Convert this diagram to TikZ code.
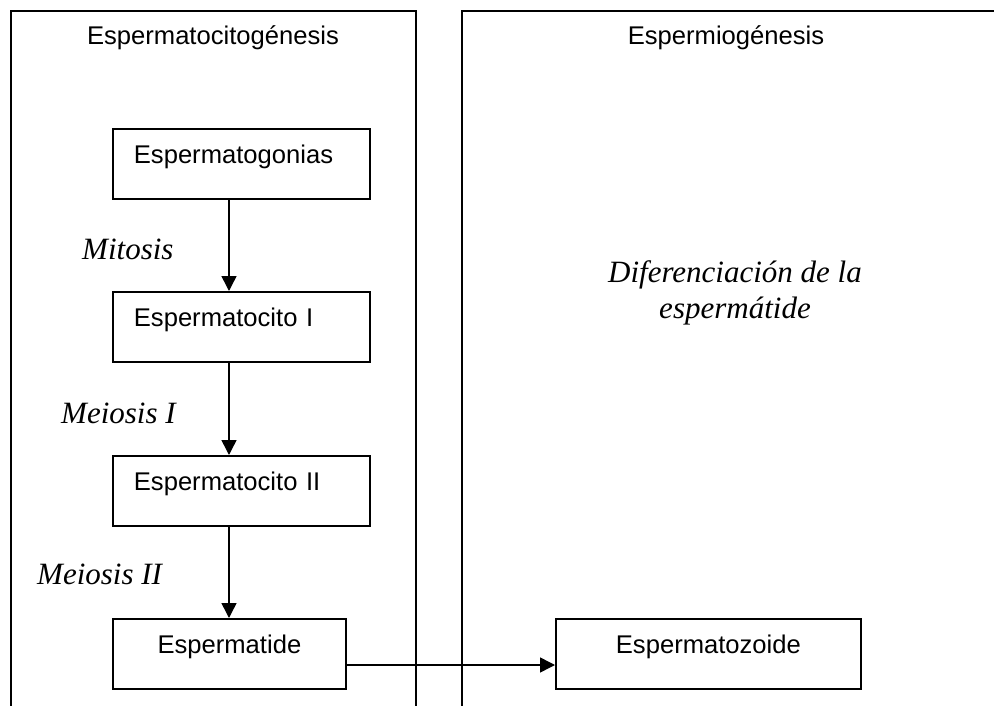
\documentclass[tikz,border=0pt]{standalone}
\usepackage{fontspec}
\setmainfont{Liberation Sans}
\newfontfamily\timesfont{Liberation Serif}
\usetikzlibrary{arrows.meta}
\tikzset{
  panel/.style={line width=1.3pt, draw=black},
  boxl/.style={draw=black, line width=1.8pt, rectangle, inner ysep=0pt,
    text height=35pt, text depth=35pt, anchor=north west,
    font=\fontsize{25.6pt}{30pt}\selectfont},
  boxleft/.style={boxl, align=left, text width=215pt, inner xsep=21pt},
  boxcenter/.style={boxl, inner xsep=0pt},
  head/.style={anchor=base, inner sep=0pt, font=\fontsize{25.6pt}{30pt}\selectfont},
  lab/.style={anchor=base west, inner sep=0pt, font=\timesfont\itshape\fontsize{31pt}{36pt}\selectfont},
  labc/.style={anchor=base, inner sep=0pt, font=\timesfont\itshape\fontsize{31pt}{36pt}\selectfont},
  arr/.style={line width=1.5pt, -{Triangle[length=15pt,width=15pt]}}
}
\begin{document}
\begin{tikzpicture}[x=1pt,y=-1pt]
\useasboundingbox (0,0) rectangle (994,706);
% panels
\draw[panel] (11,706) -- (11,11) -- (416,11) -- (416,706);
\draw[panel] (462,706) -- (462,11) -- (994,11);
\node[head] (h1) at (213,45) {Espermatocitogénesis};
\node[head] (h2) at (726,45) {Espermiogénesis};
% boxes
\node[boxleft] (b1) at (112,128) {Espermatogonias};
\node[boxleft] (b2) at (112,291) {Espermatocito I};
\node[boxleft] (b3) at (112,455) {Espermatocito II};
\node[boxcenter, minimum width=233pt] (b4) at (112,618) {Espermatide};
\node[boxcenter, minimum width=305pt] (b5) at (555,618) {Espermatozoide};
% labels
\node[lab] (l1) at (82,259) {Mitosis};
\node[lab] (l2) at (61,423) {Meiosis I};
\node[lab] (l3) at (37,584) {Meiosis II};
\node[labc] (d1) at (735,282) {Diferenciación de la};
\node[labc] (d2) at (735,318) {espermátide};
% arrows
\coordinate (ax) at (229,0);
\coordinate (ay) at (0,665);
\draw[arr] (b1.south -| ax) -- (b2.north -| ax);
\draw[arr] (b2.south -| ax) -- (b3.north -| ax);
\draw[arr] (b3.south -| ax) -- (b4.north -| ax);
\draw[arr] (b4.east |- ay) -- (b5.west |- ay);
\end{tikzpicture}
\end{document}
